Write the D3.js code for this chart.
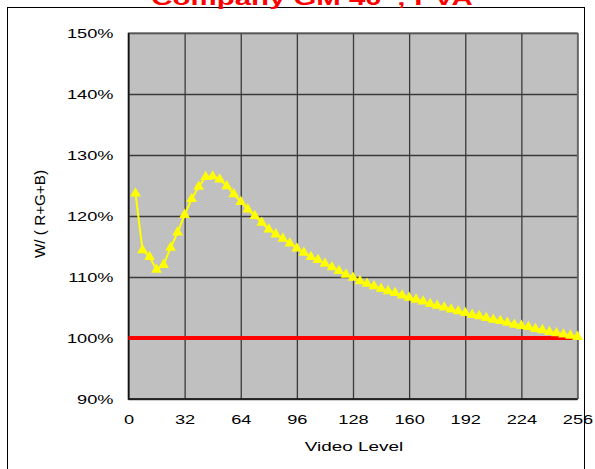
<!DOCTYPE html>
<html><head><meta charset="utf-8">
<script src="https://cdn.jsdelivr.net/npm/d3@7"></script>
<style>body{margin:0;background:#fff;}svg{display:block;font-family:Arial,"Liberation Sans",sans-serif;}</style>
</head><body>
<svg id="c" width="595" height="469"></svg>
<script>
const title = "Company GM 40\u201D; PVA";
const xTicks = [0, 32, 64, 96, 128, 160, 192, 224, 256];
const yTicks = [0.9, 1.0, 1.1, 1.2, 1.3, 1.4, 1.5];
const videoLevels = [4,8,12,16,20,24,28,32,36,40,44,48,52,56,60,64,68,72,76,80,84,88,92,96,100,104,108,112,116,120,124,128,132,136,140,144,148,152,156,160,164,168,172,176,180,184,188,192,196,200,204,208,212,216,220,224,228,232,236,240,244,248,252,256];
const ratioValues = [1.237,1.144,1.133,1.112,1.120,1.148,1.173,1.202,1.228,1.248,1.264,1.265,1.260,1.249,1.236,1.223,1.211,1.200,1.189,1.178,1.170,1.163,1.155,1.147,1.140,1.133,1.128,1.122,1.116,1.110,1.104,1.099,1.093,1.089,1.085,1.081,1.077,1.074,1.070,1.066,1.063,1.060,1.056,1.053,1.050,1.047,1.044,1.041,1.038,1.036,1.033,1.030,1.028,1.025,1.022,1.020,1.018,1.015,1.013,1.010,1.008,1.006,1.004,1.002];
const refLevels = [0, 255];
const refValues = [1.0, 1.0];

const svg = d3.select("#c");
const L = 128.5, R = 577.5, T = 33, B = 399;
const x = d3.scaleLinear().domain([0, 256]).range([L, R]);
const y = d3.scaleLinear().domain([0.9, 1.5]).range([B, T]);
const FONT = "Arial, 'Liberation Sans', sans-serif";
function stretch(sel, k) {
  sel.each(function() {
    const w = this.getComputedTextLength();
    d3.select(this).attr("textLength", w * k).attr("lengthAdjust", "spacingAndGlyphs");
  });
}

// outer frame
svg.append("rect").attr("x", 7.5).attr("y", 7.5).attr("width", 577).attr("height", 470)
  .attr("fill", "none").attr("stroke", "#000").attr("stroke-width", 1);

// plot background
svg.append("rect").attr("x", L).attr("y", T).attr("width", R - L).attr("height", B - T).attr("fill", "#c0c0c0");

// grid
const gx = svg.append("g").attr("transform", `translate(0,${B})`)
  .call(d3.axisBottom(x).tickValues(xTicks).tickSize(-(B - T)).tickFormat(""));
gx.select(".domain").remove();
gx.selectAll("line").attr("stroke", "#3a3a3a").attr("stroke-width", 1.3);
const gy = svg.append("g").attr("transform", `translate(${L},0)`)
  .call(d3.axisLeft(y).tickValues(yTicks).tickSize(-(R - L)).tickFormat(""));
gy.select(".domain").remove();
gy.selectAll("line").attr("stroke", "#3a3a3a").attr("stroke-width", 1.3);

// border
svg.append("rect").attr("x", L).attr("y", T).attr("width", R - L).attr("height", B - T)
  .attr("fill", "none").attr("stroke", "#666").attr("stroke-width", 1.2);
svg.append("path").attr("d", `M${L},${T}V${B}H${R}`).attr("fill", "none").attr("stroke", "#111").attr("stroke-width", 1.5);

// tick labels
const xl = svg.append("g").attr("transform", `translate(0,${B + 4})`)
  .call(d3.axisBottom(x).tickValues(xTicks).tickSize(0).tickPadding(12).tickFormat(d3.format("d")));
xl.select(".domain").remove();
xl.selectAll("text").attr("font-size", 13).attr("fill", "#000").attr("font-family", FONT).call(stretch, 1.4);
const yl = svg.append("g").attr("transform", `translate(${L - 15},0)`)
  .call(d3.axisLeft(y).tickValues(yTicks).tickSize(0).tickPadding(0).tickFormat(d3.format(".0%")));
yl.select(".domain").remove();
yl.selectAll("text").attr("font-size", 13).attr("fill", "#000").attr("font-family", FONT).call(stretch, 1.4);

// axis titles
svg.append("text").attr("x", (L + R) / 2 + 1).attr("y", 451).attr("text-anchor", "middle")
  .attr("font-size", 13.5).attr("font-family", FONT).text("Video Level").call(stretch, 1.4);
svg.append("text").attr("transform", "translate(45,214) rotate(-90)").attr("text-anchor", "middle")
  .attr("font-size", 14).attr("font-family", FONT).attr("textLength", 88).attr("lengthAdjust", "spacingAndGlyphs")
  .text("W/ ( R+G+B)");

// title
svg.append("text").attr("x", 312).attr("y", 5).attr("text-anchor", "middle")
  .attr("font-size", 21).attr("font-weight", "bold").attr("fill", "#ff0000").attr("font-family", FONT)
  .text(title).call(stretch, 1.4);

// reference line
const refData = refLevels.map((v, i) => [v, refValues[i]]);
svg.append("path").datum(refData)
  .attr("d", d3.line().x(d => x(d[0])).y(d => y(d[1])))
  .attr("stroke", "#ff0000").attr("stroke-width", 4).attr("fill", "none");

// data series
const data = videoLevels.map((v, i) => [v, ratioValues[i]]);
svg.append("path").datum(data)
  .attr("d", d3.line().x(d => x(d[0])).y(d => y(d[1])))
  .attr("stroke", "#ffff00").attr("stroke-width", 2).attr("fill", "none");
const tri = d3.symbol().type(d3.symbolTriangle).size(50);
svg.append("g").selectAll("path").data(data).join("path")
  .attr("transform", d => `translate(${x(d[0])},${y(d[1])})`)
  .attr("d", tri).attr("fill", "#ffff00");
</script>
</body></html>
